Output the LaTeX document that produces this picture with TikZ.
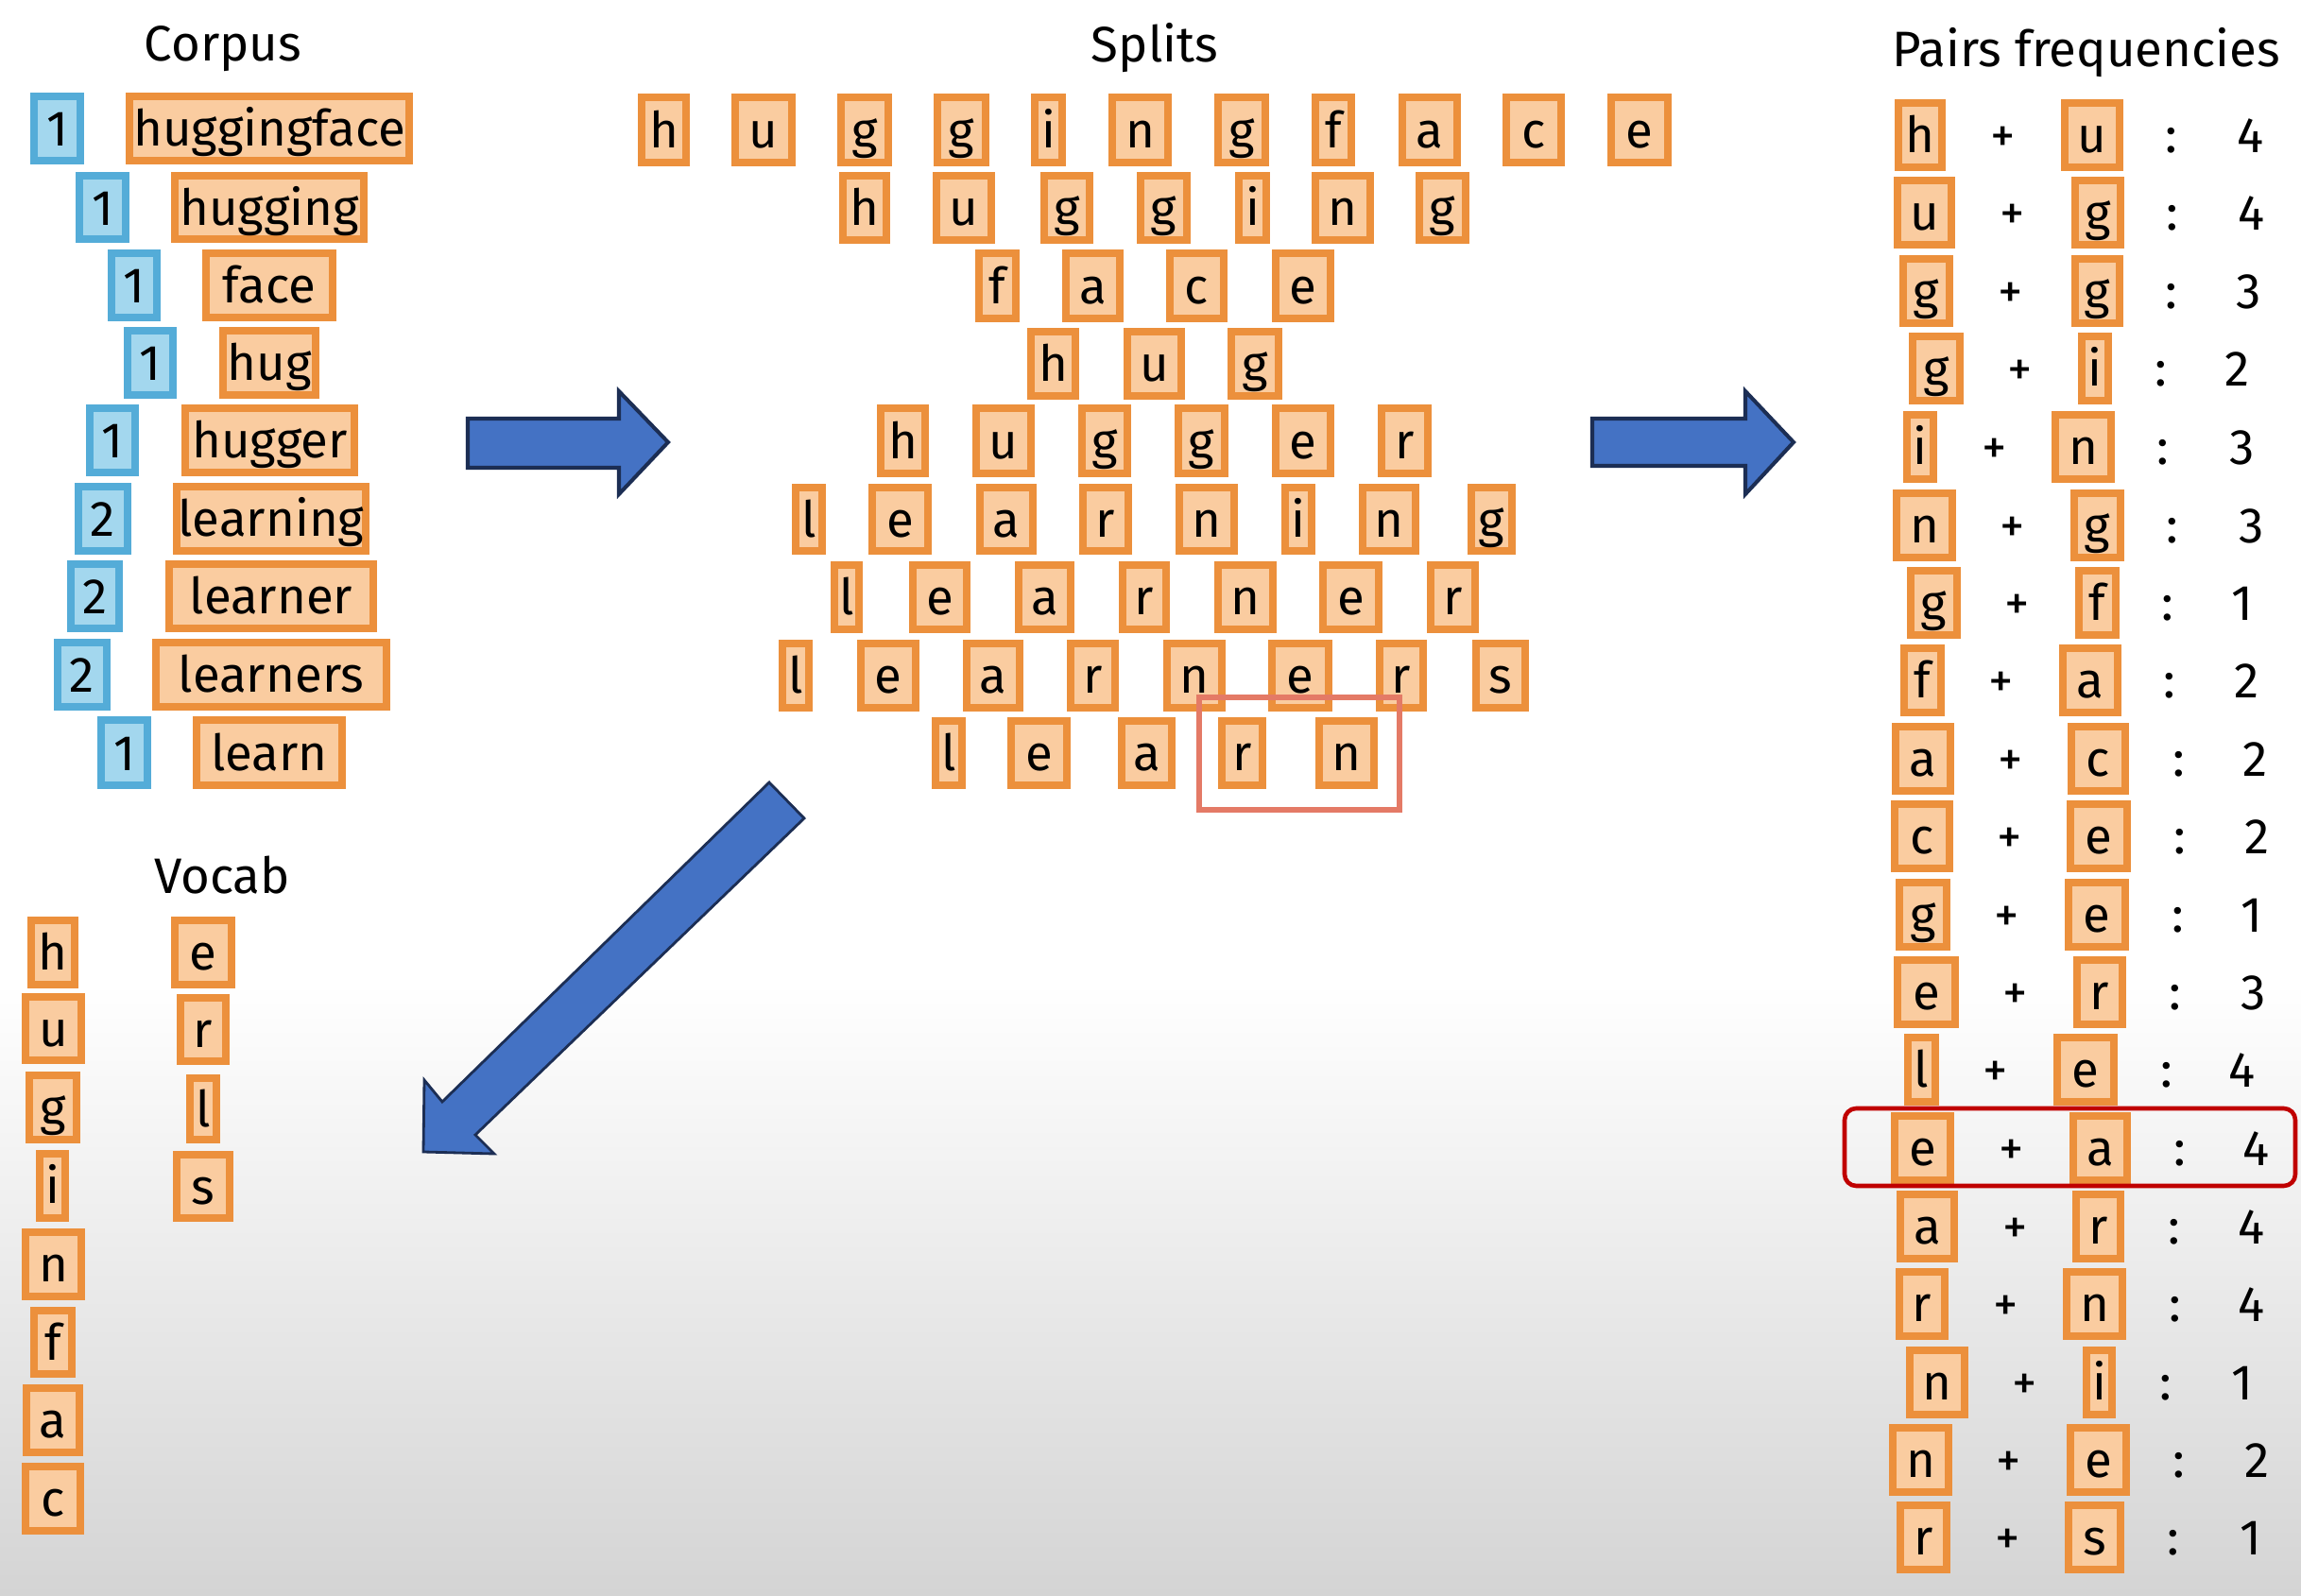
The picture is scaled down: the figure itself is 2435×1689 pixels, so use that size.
\documentclass[tikz,border=0pt]{standalone}
\usepackage{fontspec}
\setmainfont{Fira Sans}
\definecolor{boxorange}{RGB}{236,144,60}
\definecolor{boxfill}{RGB}{250,204,160}
\definecolor{blueline}{RGB}{84,172,216}
\definecolor{bluefill}{RGB}{163,215,238}
\definecolor{arrowfill}{RGB}{68,114,196}
\definecolor{arrowline}{RGB}{28,46,84}
\definecolor{hlred}{RGB}{192,0,0}
\definecolor{hlcoral}{RGB}{228,122,102}
\definecolor{bggray}{RGB}{212,212,212}
% orange box: name, x1, x2, y1, y2, text  (pixel coordinates, outer edges)
\newcommand{\OB}[6]{\node[obox, minimum width={(#3-#2-8)*0.28453pt}, minimum height={(#5-#4-8)*0.28453pt}] (#1) at ({(#2+#3)/2},{(#4+#5)/2}) {#6};}
\newcommand{\BB}[6]{\node[bbox, minimum width={(#3-#2-8)*0.28453pt}, minimum height={(#5-#4-8)*0.28453pt}] (#1) at ({(#2+#3)/2},{(#4+#5)/2}) {#6};}
\newcommand{\TX}[4]{\node[ptext] (#1) at (#2,#3) {#4};}
% pair row: idx, left letter, lx1, lx2, plus x, right letter, rx1, rx2, ytop
\newcommand{\PRow}[9]{%
  \OB{pl#1}{#3}{#4}{#9}{#9+76}{#2}
  \OB{pr#1}{#7}{#8}{#9}{#9+76}{#6}
  \TX{pp#1}{#5}{#9+38}{+}}
% pair frequency: idx, colon x, number, number x, ytop
\newcommand{\PNum}[5]{%
  \TX{pc#1}{#2}{#5+38}{:}
  \TX{pn#1}{#4}{#5+38}{#3}}
\begin{document}
\begin{tikzpicture}[x=0.01cm, y=-0.01cm,
  every node/.style={font=\fontsize{15pt}{18pt}\selectfont, text=black},
  obox/.style={draw=boxorange, fill=boxfill, line width=2.2pt, inner sep=0pt,
    text height=10.8pt, text depth=0pt},
  bbox/.style={draw=blueline, fill=bluefill, line width=2.2pt, inner sep=0pt,
    text height=10.8pt, text depth=0pt},
  ptext/.style={inner sep=0pt, text height=10.8pt, text depth=0pt},
  title/.style={inner sep=0pt, anchor=base},
  blockarrow/.style={fill=arrowfill, draw=arrowline, line width=1.15pt, line join=miter}]
\useasboundingbox (0,0) rectangle (2435,1689);
\fill[white] (0,0) rectangle (2435,1689);
\shade[top color=white, bottom color=bggray] (0,1040) rectangle (2435,1689);

% titles
\node[title] (tcorpus) at (236,65) {Corpus};
\node[title] (tsplits) at (1222,66) {Splits};
\node[title] (tpairs) at (2208,71) {Pairs frequencies};
\node[title] (tvocab) at (235,946) {Vocab};

% block arrows
\draw[blockarrow] (495,443) -- (655,443) -- (655,414) -- (707,468) -- (655,523) -- (655,495) -- (495,495) -- cycle;
\draw[blockarrow] (1685,443) -- (1847,443) -- (1847,414) -- (1898,468) -- (1847,523) -- (1847,493) -- (1685,493) -- cycle;
\draw[blockarrow, line width=0.8pt] (814,828) -- (851,866) -- (503,1201) -- (523,1221) -- (448,1219) -- (449,1143) -- (468,1166) -- cycle;

% corpus
\BB{n1}{32}{89}{98}{174}{1}     \OB{c1}{133}{437}{98}{174}{huggingface}
\BB{n2}{80}{137}{182}{257}{1}   \OB{c2}{181}{389}{182}{257}{hugging}
\BB{n3}{114}{170}{264}{340}{1}  \OB{c3}{214}{356}{264}{340}{face}
\BB{n4}{131}{187}{346}{422}{1}  \OB{c4}{232}{338}{346}{422}{hug}
\BB{n5}{91}{147}{428}{504}{1}   \OB{c5}{192}{379}{428}{504}{hugger}
\BB{n6}{79}{139}{511}{587}{2}   \OB{c6}{183}{391}{511}{587}{learning}
\BB{n7}{71}{130}{593}{669}{2}   \OB{c7}{175}{399}{593}{669}{learner}
\BB{n8}{57}{117}{676}{752}{2}   \OB{c8}{161}{413}{676}{752}{learners}
\BB{n9}{103}{160}{758}{835}{1}  \OB{c9}{204}{366}{758}{835}{learn}

% splits
\OB{s1a}{675}{730}{99}{176}{h} \OB{s1b}{774}{842}{99}{176}{u} \OB{s1c}{886}{944}{99}{176}{g}
\OB{s1d}{988}{1047}{99}{176}{g} \OB{s1e}{1091}{1128}{99}{176}{i} \OB{s1f}{1173}{1240}{99}{176}{n}
\OB{s1g}{1285}{1343}{99}{176}{g} \OB{s1h}{1388}{1434}{99}{176}{f} \OB{s1i}{1480}{1546}{99}{176}{a}
\OB{s1j}{1590}{1656}{99}{176}{c} \OB{s1k}{1701}{1769}{99}{176}{e}

\OB{s2a}{888}{942}{182}{258}{h} \OB{s2b}{987}{1053}{182}{258}{u} \OB{s2c}{1101}{1157}{182}{258}{g}
\OB{s2d}{1203}{1260}{182}{258}{g} \OB{s2e}{1307}{1344}{182}{258}{i} \OB{s2f}{1388}{1454}{182}{258}{n}
\OB{s2g}{1498}{1555}{182}{258}{g}

\OB{s3a}{1032}{1079}{264}{341}{f} \OB{s3b}{1124}{1189}{264}{341}{a} \OB{s3c}{1234}{1299}{264}{341}{c}
\OB{s3d}{1346}{1412}{264}{341}{e}

\OB{s4a}{1087}{1142}{347}{423}{h} \OB{s4b}{1189}{1254}{347}{423}{u} \OB{s4c}{1299}{1357}{347}{423}{g}

\OB{s5a}{928}{983}{428}{505}{h} \OB{s5b}{1029}{1095}{428}{505}{u} \OB{s5c}{1141}{1197}{428}{505}{g}
\OB{s5d}{1243}{1300}{428}{505}{g} \OB{s5e}{1346}{1412}{428}{505}{e} \OB{s5f}{1458}{1515}{428}{505}{r}

\OB{s6a}{838}{874}{512}{587}{l} \OB{s6b}{919}{986}{512}{587}{e} \OB{s6c}{1033}{1097}{512}{587}{a}
\OB{s6d}{1142}{1198}{512}{587}{r} \OB{s6e}{1244}{1310}{512}{587}{n} \OB{s6f}{1356}{1392}{512}{587}{i}
\OB{s6g}{1438}{1502}{512}{587}{n} \OB{s6h}{1553}{1604}{512}{587}{g}

\OB{s7a}{879}{913}{594}{670}{l} \OB{s7b}{962}{1027}{594}{670}{e} \OB{s7c}{1074}{1137}{594}{670}{a}
\OB{s7d}{1184}{1238}{594}{670}{r} \OB{s7e}{1285}{1351}{594}{670}{n} \OB{s7f}{1396}{1463}{594}{670}{e}
\OB{s7g}{1510}{1565}{594}{670}{r}

\OB{s8a}{824}{860}{677}{753}{l} \OB{s8b}{907}{973}{677}{753}{e} \OB{s8c}{1019}{1083}{677}{753}{a}
\OB{s8d}{1129}{1184}{677}{753}{r} \OB{s8e}{1231}{1297}{677}{753}{n} \OB{s8f}{1342}{1410}{677}{753}{e}
\OB{s8g}{1456}{1510}{677}{753}{r} \OB{s8h}{1558}{1618}{677}{753}{s}

\OB{s9a}{986}{1022}{759}{835}{l} \OB{s9b}{1066}{1133}{759}{835}{e} \OB{s9c}{1183}{1244}{759}{835}{a}
\OB{s9d}{1289}{1340}{759}{835}{r} \OB{s9e}{1392}{1458}{759}{835}{n}

\draw[hlcoral, line width=1.5pt] (1269,738) rectangle (1481,857);

% vocab
\OB{v1}{29}{83}{970}{1046}{h}   \OB{w1}{181}{249}{970}{1046}{e}
\OB{v2}{23}{90}{1051}{1126}{u}  \OB{w2}{187}{243}{1052}{1127}{r}
\OB{v3}{27}{85}{1134}{1210}{g}  \OB{w3}{197}{233}{1137}{1210}{l}
\OB{v4}{38}{73}{1217}{1293}{i}  \OB{w4}{183}{247}{1218}{1293}{s}
\OB{v5}{23}{90}{1300}{1376}{n}
\OB{v6}{32}{80}{1383}{1458}{f}
\OB{v7}{24}{88}{1465}{1541}{a}
\OB{v8}{23}{89}{1548}{1624}{c}

% pairs frequencies
\PRow{1}{h}{2005}{2059}{2120}{u}{2181}{2247}{105}   \PNum{1}{2298}{4}{2382}{105}
\PRow{2}{u}{2004}{2069}{2130}{g}{2192}{2248}{187}   \PNum{2}{2299}{4}{2383}{187}
\PRow{3}{g}{2010}{2067}{2128}{g}{2192}{2247}{270}   \PNum{3}{2298}{3}{2380}{270}
\PRow{4}{g}{2020}{2078}{2138}{i}{2199}{2235}{352}   \PNum{4}{2287}{2}{2368}{352}
\PRow{5}{i}{2014}{2050}{2111}{n}{2171}{2238}{435}   \PNum{5}{2289}{3}{2373}{435}
\PRow{6}{n}{2003}{2070}{2130}{g}{2191}{2248}{518}   \PNum{6}{2299}{3}{2383}{518}
\PRow{7}{g}{2018}{2075}{2135}{f}{2196}{2243}{600}   \PNum{7}{2294}{1}{2373}{600}
\PRow{8}{f}{2011}{2058}{2118}{a}{2179}{2245}{682}   \PNum{8}{2296}{2}{2378}{682}
\PRow{9}{a}{2002}{2068}{2128}{c}{2188}{2253}{765}   \PNum{9}{2306}{2}{2387}{765}
\PRow{10}{c}{2001}{2067}{2127}{e}{2187}{2255}{847}  \PNum{10}{2307}{2}{2389}{847}
\PRow{11}{g}{2006}{2064}{2124}{e}{2185}{2253}{930}  \PNum{11}{2305}{1}{2383}{930}
\PRow{12}{e}{2004}{2073}{2133}{r}{2194}{2250}{1012} \PNum{12}{2302}{3}{2385}{1012}
\PRow{13}{l}{2015}{2052}{2112}{e}{2173}{2241}{1094} \PNum{13}{2293}{4}{2373}{1094}
\PRow{14}{e}{2001}{2068}{2129}{a}{2190}{2255}{1177} \PNum{14}{2307}{4}{2388}{1177}
\PRow{15}{a}{2007}{2072}{2133}{r}{2193}{2248}{1260} \PNum{15}{2301}{4}{2383}{1260}
\PRow{16}{r}{2006}{2062}{2123}{n}{2183}{2250}{1342} \PNum{16}{2302}{4}{2383}{1342}
\PRow{17}{n}{2017}{2083}{2143}{i}{2204}{2239}{1425} \PNum{17}{2292}{1}{2373}{1425}
\PRow{18}{n}{1999}{2066}{2126}{e}{2187}{2254}{1507} \PNum{18}{2306}{2}{2389}{1507}
\PRow{19}{r}{2007}{2064}{2125}{s}{2185}{2248}{1589} \PNum{19}{2300}{1}{2382}{1589}

\draw[hlred, line width=1.3pt, rounded corners=3.5pt] (1952,1173) rectangle (2429,1255);
\end{tikzpicture}
\end{document}
